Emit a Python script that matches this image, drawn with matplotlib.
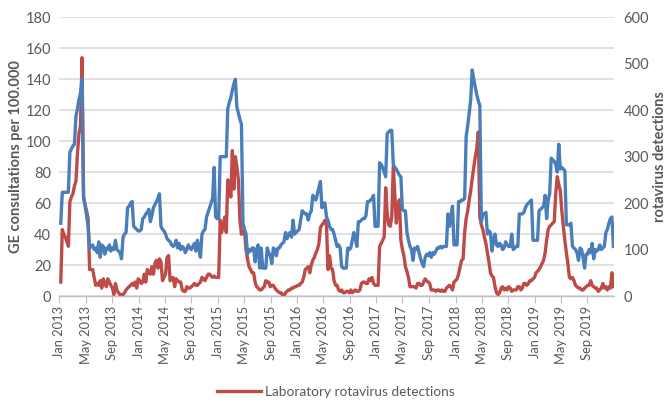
import pandas as pd
import matplotlib.pyplot as plt
from matplotlib.transforms import ScaledTranslation

plt.rcParams['font.family'] = ['Lato', 'DejaVu Sans']

# GE consultations per 100.000 (weekly, left axis)
ge_2013 = [47, 67, 67, 67, 67, 67, 93, 95, 97, 98, 116, 121, 127, 131, 140, 64, 58, 52, 45, 31,
           32, 33, 30, 31, 28, 35, 25, 33, 32, 27, 31, 30, 33, 29, 31, 30, 36, 30, 29, 28,
           24, 38, 40, 41, 57, 58, 60, 61, 45, 44, 43, 42]
ge_2014 = [42, 43, 50, 51, 53, 54, 56, 48, 52, 57, 59, 61, 63, 66, 45, 43, 42, 40, 37, 36,
           35, 33, 32, 33, 36, 31, 34, 30, 32, 31, 28, 30, 33, 31, 30, 32, 34, 29, 36, 31,
           25, 40, 42, 43, 51, 54, 57, 60, 63, 83, 51, 50]
ge_2015 = [50, 90, 90, 90, 90, 90, 121, 125, 128, 133, 137, 140, 122, 118, 114, 111, 47, 43, 40, 27,
           30, 29, 31, 31, 22, 30, 33, 18, 31, 18, 18, 18, 31, 28, 26, 21, 31, 30, 26, 31,
           31, 33, 34, 35, 41, 37, 40, 41, 38, 49, 40, 41]
ge_2016 = [42, 43, 49, 55, 54, 53, 53, 49, 53, 55, 65, 63, 62, 66, 70, 74, 57, 60, 60, 51,
           49, 45, 43, 43, 40, 36, 32, 33, 31, 19, 18, 18, 18, 31, 30, 31, 36, 41, 37, 32,
           48, 48, 49, 50, 50, 52, 61, 61, 62, 63, 65, 45]
ge_2017 = [45, 45, 86, 85, 83, 80, 77, 105, 106, 107, 107, 85, 83, 82, 80, 78, 77, 56, 55, 55,
           41, 36, 32, 30, 23, 31, 30, 32, 28, 24, 21, 19, 25, 27, 26, 28, 25, 28, 27, 29,
           31, 31, 32, 31, 32, 32, 32, 53, 45, 52, 58, 33]
ge_2018 = [33, 33, 61, 61, 62, 62, 63, 103, 110, 118, 127, 146, 140, 135, 130, 126, 123, 48, 53, 53,
           54, 40, 42, 41, 29, 36, 40, 33, 32, 34, 33, 30, 31, 35, 33, 32, 32, 40, 30, 31,
           32, 32, 53, 53, 53, 54, 57, 59, 60, 61, 62, 36]
ge_2019 = [36, 36, 36, 55, 56, 57, 58, 65, 50, 62, 66, 89, 88, 87, 85, 80, 98, 82, 83, 82,
           81, 46, 46, 46, 47, 32, 31, 30, 28, 23, 31, 30, 25, 18, 27, 27, 30, 28, 34, 24,
           30, 29, 30, 33, 30, 31, 32, 41, 43, 47, 50, 51, 32]

# Laboratory rotavirus detections (weekly, right axis)
rv_2013 = [30, 143, 133, 127, 117, 107, 203, 213, 220, 237, 247, 307, 350, 367, 513, 213, 197, 183, 167, 57,
           57, 57, 40, 23, 27, 23, 33, 17, 37, 27, 20, 37, 30, 23, 17, 3, 27, 13, 7, 3,
           3, 3, 7, 13, 17, 20, 23, 27, 23, 30, 17, 37]
rv_2014 = [33, 27, 30, 47, 30, 57, 50, 47, 63, 47, 70, 77, 60, 80, 73, 33, 40, 47, 83, 87,
           33, 37, 40, 20, 37, 33, 30, 30, 13, 10, 10, 20, 17, 17, 20, 23, 27, 23, 23, 27,
           30, 40, 37, 33, 40, 47, 47, 43, 40, 43, 40, 40]
rv_2015 = [40, 163, 137, 153, 170, 137, 250, 237, 213, 313, 230, 300, 277, 250, 163, 133, 137, 143, 100, 80,
           63, 57, 50, 50, 30, 20, 17, 13, 13, 17, 20, 33, 30, 30, 20, 23, 23, 17, 13, 10,
           7, 7, 3, 0, 7, 10, 13, 13, 17, 17, 20, 20]
rv_2016 = [23, 23, 27, 30, 40, 57, 60, 63, 50, 67, 77, 83, 93, 100, 113, 147, 153, 157, 163, 153,
           57, 87, 60, 57, 33, 23, 23, 13, 10, 13, 7, 7, 10, 10, 7, 13, 7, 10, 13, 10,
           10, 13, 27, 30, 30, 27, 27, 37, 33, 40, 27, 23]
rv_2017 = [23, 23, 107, 113, 120, 127, 233, 177, 153, 150, 170, 280, 220, 157, 193, 207, 120, 100, 87, 63,
           53, 40, 20, 20, 20, 20, 17, 27, 27, 23, 23, 30, 37, 33, 30, 27, 13, 13, 13, 10,
           13, 13, 10, 13, 10, 10, 17, 20, 23, 20, 13, 30]
rv_2018 = [33, 37, 47, 63, 77, 80, 137, 167, 183, 207, 227, 253, 277, 300, 317, 353, 170, 153, 143, 127,
           113, 93, 73, 50, 43, 40, 20, 7, 3, 7, 17, 20, 13, 17, 13, 20, 17, 10, 13, 13,
           13, 20, 20, 13, 17, 27, 27, 23, 27, 33, 33, 37]
rv_2019 = [40, 50, 53, 57, 63, 70, 77, 93, 120, 143, 150, 153, 157, 160, 220, 257, 240, 227, 183, 150,
           120, 93, 70, 40, 37, 40, 33, 23, 20, 17, 17, 13, 13, 17, 20, 23, 23, 33, 23, 20,
           17, 17, 10, 13, 17, 27, 17, 20, 13, 20, 17, 50, 20]

ge_consultations = ge_2013 + ge_2014 + ge_2015 + ge_2016 + ge_2017 + ge_2018 + ge_2019
rota_detections = rv_2013 + rv_2014 + rv_2015 + rv_2016 + rv_2017 + rv_2018 + rv_2019
weeks = pd.date_range('2013-01-07', periods=len(ge_consultations), freq='7D')

tick_dates = pd.date_range('2013-01-01', '2019-09-01', freq='4MS')
tick_labels = [d.strftime('%b %Y') for d in tick_dates]

BLUE = '#4a7ebb'
RED = '#be4b48'
GREY = '#595959'

fig = plt.figure(figsize=(6.72, 4.03), dpi=100)
ax = fig.add_axes([0.0885, 0.2655, 0.825, 0.6916])
ax_rv = ax.twinx()
ax_ge = ax.twinx()

ax.set_xlim(pd.Timestamp('2013-01-01'), pd.Timestamp('2020-01-01'))
ax.set_ylim(0, 180)
ax.set_yticks(range(0, 181, 20))
ax.yaxis.grid(True, color='#d9d9d9', lw=1.1)
ax.set_axisbelow(True)

ax_rv.set_ylim(0, 600)
ax_rv.set_yticks(range(0, 601, 100))
red_line, = ax_rv.plot(weeks, rota_detections, color=RED, lw=2.4,
                       label='Laboratory rotavirus detections')

ax_ge.set_ylim(0, 180)
ax_ge.plot(weeks, ge_consultations, color=BLUE, lw=2.4)
ax_ge.set_yticks([])

for a in (ax, ax_rv, ax_ge):
    for side in ('top', 'left', 'right'):
        a.spines[side].set_visible(False)
    a.spines['bottom'].set_color('#bfbfbf')

ax.set_xticks(tick_dates)
ax.set_xticklabels(tick_labels, rotation=90, fontsize=9.3, color=GREY)
shift = ScaledTranslation(0.06, 0, fig.dpi_scale_trans)
for lbl in ax.get_xticklabels():
    lbl.set_transform(lbl.get_transform() + shift)
ax.tick_params(axis='x', length=5, color='#bfbfbf', pad=2)
ax.tick_params(axis='y', length=0, pad=6, labelsize=10.5, labelcolor=GREY)
ax_rv.tick_params(axis='y', length=0, pad=7, labelsize=10.5, labelcolor=GREY)

ax.set_ylabel('GE consultations per 100.000', fontsize=10.5, fontweight='bold',
              color=GREY, labelpad=2)
ax_rv.set_ylabel('rotavirus detections', fontsize=10.5, fontweight='bold',
                 color=GREY, labelpad=3)

fig.legend(handles=[red_line], loc='center', bbox_to_anchor=(0.5, 0.027),
           frameon=False, fontsize=9.8, handlelength=3.2, handletextpad=0.3,
           labelcolor=GREY)

fig.savefig('out.png', dpi=100)
